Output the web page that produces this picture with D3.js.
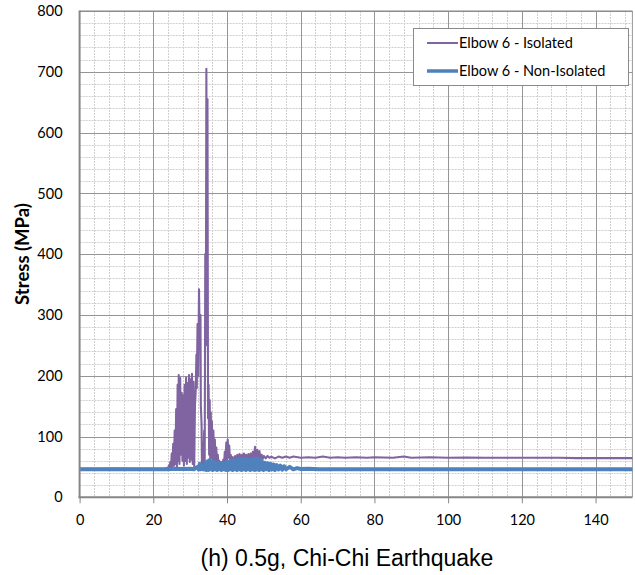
<!DOCTYPE html>
<meta charset="utf-8">
<style>
body { margin: 0; background: #fff; }
.tick text { font-family: Lato, "Open Sans", sans-serif; font-size: 14.5px; fill: #000; }
.grid-major line { stroke: #959595; stroke-width: 1px; }
.grid-minor line { stroke: #cfcfcf; stroke-width: 1px; stroke-dasharray: 2,1; }
</style>
<svg id="chart"></svg>
<script src="https://d3js.org/d3.v7.min.js"></script>
<script>

// time (s), stress (MPa)
var isolated = [
  [0,47],[5,47],[10,47.5],[15,47],[20,47],[23,47.5],[24,48],
  [24.2,52],[24.4,47],[24.6,58],[24.8,48],[25.0,72],[25.2,50],[25.4,88],[25.6,52],
  [25.8,110],[26.0,55],[26.2,145],[26.4,50],[26.6,185],[26.8,60],[26.9,201],[27.1,55],
  [27.3,196],[27.5,70],[27.7,172],[27.9,60],[28.1,168],[28.3,52],[28.5,185],[28.7,60],
  [28.9,197],[29.1,55],[29.3,188],[29.5,65],[29.7,201],[29.9,58],[30.1,194],[30.3,62],
  [30.5,203],[30.7,55],[30.9,190],[31.1,50],[31.3,150],[31.5,175],[31.7,235],[31.8,180],
  [32.0,285],[32.2,200],[32.4,342],[32.6,250],[32.8,300],[32.9,150],[33.1,120],[33.2,52],
  [33.4,90],[33.6,50],[33.8,110],[33.95,60],[34.1,400],[34.25,250],[34.4,705],[34.55,300],
  [34.7,655],[34.85,130],[35.0,185],[35.15,70],[35.3,160],[35.45,60],[35.6,140],[35.75,65],
  [35.9,125],[36.1,58],[36.3,110],[36.5,55],[36.7,95],[36.9,52],[37.1,82],[37.3,50],
  [37.5,70],[37.7,52],[37.9,60],[38.1,50],[38.4,58],[38.7,52],[39.0,62],[39.2,55],
  [39.4,75],[39.6,58],[39.8,90],[40.0,62],[40.2,95],[40.4,65],[40.6,85],[40.8,58],
  [41.0,70],[41.3,57],[41.6,66],[41.9,58],[42.2,68],[42.5,60],[42.8,70],[43.1,61],
  [43.4,71],[43.7,62],[44.0,70],[44.3,60],[44.6,72],[44.9,62],[45.2,70],[45.5,60],
  [45.8,71],[46.1,63],[46.4,72],[46.7,62],[47.0,75],[47.3,64],[47.6,83],[47.9,66],
  [48.2,78],[48.5,63],[48.8,76],[49.1,64],[49.4,70],[49.7,63],[50.0,68],[50.5,64],
  [51,68],[51.5,65],[52,67],[53,64],[54,67],[55,65],[56,67],[57,65],[58,67],[60,65],
  [62,66],[64,65],[66,67],[68,65],[70,66],[72,65],[75,66],[78,65],[80,66],[85,65],
  [88,67],[90,65],[95,66],[100,65],[105,65.5],[110,65],[115,65],[120,65],[125,65],
  [130,65],[135,64.5],[140,64.5],[145,64.5],[150,64.5]
]

var nonIsolated = [
  [0,46],[10,46],[20,46],[24,46],[26,47],[28,46.5],[30,47],[31,46],[32,50],[32.3,46],
  [32.6,55],[32.9,46],[33.3,52],[33.6,46],[34,55],[34.3,45],[34.6,59],[34.9,45],[35.2,61],
  [35.5,46],[35.8,58],[36.1,45],[36.4,59],[36.7,46],[37,56],[37.3,45],[37.6,57],[37.9,46],
  [38.2,55],[38.5,45],[38.8,56],[39.1,46],[39.4,57],[39.7,45],[40,59],[40.3,45],[40.6,58],
  [40.9,46],[41.2,59],[41.5,45],[41.8,61],[42.1,46],[42.4,60],[42.7,45],[43,62],[43.3,46],
  [43.6,61],[43.9,45],[44.2,63],[44.5,46],[44.8,62],[45.1,45],[45.4,63],[45.7,46],[46,61],
  [46.3,45],[46.6,63],[46.9,46],[47.2,62],[47.5,45],[47.8,64],[48.1,46],[48.4,63],[48.7,45],
  [49,61],[49.3,46],[49.6,58],[49.9,45],[50.2,57],[50.6,46],[51,56],[51.4,45],[51.8,55],
  [52.2,46],[52.6,54],[53,45],[53.5,53],[54,46],[54.5,52],[55,45.5],[55.5,51],[56,46],
  [57,50],[58,46],[59,48],[60,46.5],[62,47],[65,46],[70,46],[80,46],[90,46],[100,46],
  [110,46],[120,46],[130,46],[140,46],[150,46]
]

var seriesNames = ['Elbow 6 - Isolated', 'Elbow 6 - Non-Isolated']
var seriesColors = ['#8064a2', '#4f81bd']
var xTicks = [0, 20, 40, 60, 80, 100, 120, 140]
var yTicks = [0, 100, 200, 300, 400, 500, 600, 700, 800]

var width = 635, height = 575
var pLeft = 79.6, pRight = 632.4, pTop = 11, pBottom = 497.3

var svg = d3.select('#chart').attr('width', width).attr('height', height)

var x = d3.scaleLinear().domain([0, 150]).range([pLeft, pRight])
var y = d3.scaleLinear().domain([0, 800]).range([pBottom, pTop])

// minor grid
svg.append('g').attr('class', 'grid-minor')
  .selectAll('line').data(d3.range(0, 150, 4).filter(d => d % 20 != 0))
  .enter().append('line')
  .attr('x1', d => Math.round(x(d)) + 0.5).attr('x2', d => Math.round(x(d)) + 0.5)
  .attr('y1', pTop).attr('y2', pBottom)
svg.append('g').attr('class', 'grid-minor')
  .selectAll('line').data(d3.range(0, 800, 20).filter(d => d % 100 != 0))
  .enter().append('line')
  .attr('y1', d => Math.round(y(d)) + 0.5).attr('y2', d => Math.round(y(d)) + 0.5)
  .attr('x1', pLeft).attr('x2', pRight)

// major grid
svg.append('g').attr('class', 'grid-major')
  .selectAll('line').data(xTicks.slice(1))
  .enter().append('line')
  .attr('x1', d => Math.round(x(d)) + 0.5).attr('x2', d => Math.round(x(d)) + 0.5)
  .attr('y1', pTop).attr('y2', pBottom)
svg.append('g').attr('class', 'grid-major')
  .selectAll('line').data(yTicks.slice(1))
  .enter().append('line')
  .attr('y1', d => Math.round(y(d)) + 0.5).attr('y2', d => Math.round(y(d)) + 0.5)
  .attr('x1', pLeft).attr('x2', pRight)

// right border
svg.append('line').attr('x1', pRight).attr('x2', pRight).attr('y1', pTop).attr('y2', pBottom)
  .attr('stroke', '#959595')

// series
var line = d3.line().x(d => x(d[0])).y(d => y(d[1]))
svg.append('path').datum(isolated).attr('d', line)
  .attr('fill', 'none').attr('stroke', seriesColors[0]).attr('stroke-width', 2.1)
  .attr('stroke-linejoin', 'round')
svg.append('path').datum(nonIsolated).attr('d', line)
  .attr('fill', 'none').attr('stroke', seriesColors[1]).attr('stroke-width', 4)
  .attr('stroke-linejoin', 'round')

// axes
var gx = svg.append('g').attr('transform', 'translate(0,' + pBottom + ')')
  .call(d3.axisBottom(x).tickValues(xTicks).tickSize(6).tickPadding(11))
gx.select('.domain').remove()
gx.selectAll('.tick line').attr('stroke', '#868686')

var gy = svg.append('g').attr('transform', 'translate(' + pLeft + ',0)')
  .call(d3.axisLeft(y).tickValues(yTicks).tickSize(0).tickPadding(17))
gy.select('.domain').remove()

svg.append('line').attr('x1', pLeft).attr('x2', pLeft).attr('y1', pTop - 0.5).attr('y2', pBottom + 1)
  .attr('stroke', '#868686').attr('stroke-width', 2)
svg.append('line').attr('x1', pLeft - 1).attr('x2', pRight).attr('y1', pBottom).attr('y2', pBottom)
  .attr('stroke', '#868686').attr('stroke-width', 2)
svg.append('line').attr('x1', pLeft).attr('x2', pRight).attr('y1', pTop).attr('y2', pTop)
  .attr('stroke', '#868686').attr('stroke-width', 1)

// titles
svg.append('text')
  .attr('transform', 'translate(29,254) rotate(-90)')
  .attr('text-anchor', 'middle')
  .style('font-family', 'Lato, sans-serif').style('font-weight', 'bold').style('font-size', '18.5px')
  .text('Stress (MPa)')

svg.append('text')
  .attr('x', 347).attr('y', 566).attr('text-anchor', 'middle')
  .style('font-family', '"Liberation Sans", Arial, sans-serif').style('font-size', '23px')
  .text('(h) 0.5g, Chi-Chi Earthquake')

// legend
var lg = svg.append('g')
lg.append('rect').attr('x', 413.5).attr('y', 28.5).attr('width', 215).attr('height', 57)
  .attr('fill', '#fff').attr('stroke', '#8a8a8a')
seriesNames.forEach(function (name, i) {
  var ly = 43 + i * 28
  lg.append('line').attr('x1', 427).attr('x2', 458).attr('y1', ly).attr('y2', ly)
    .attr('stroke', seriesColors[i]).attr('stroke-width', i == 0 ? 2 : 3.5)
  lg.append('text').attr('x', 459).attr('y', ly + 5)
    .style('font-family', 'Lato, sans-serif').style('font-size', '14.5px')
    .text(name)
})
</script>
